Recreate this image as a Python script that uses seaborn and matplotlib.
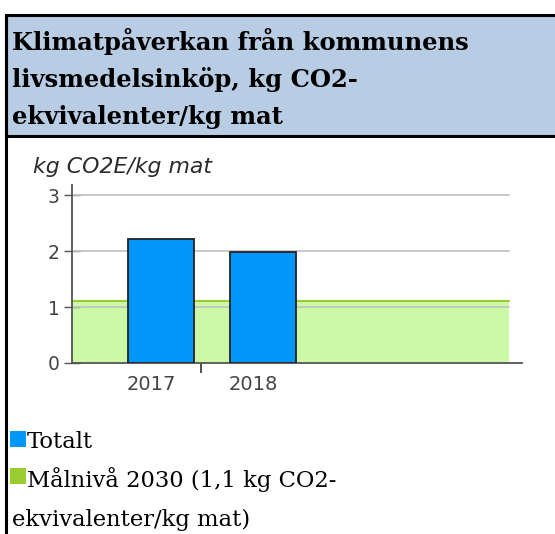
import matplotlib
matplotlib.use('Agg')
import matplotlib.pyplot as plt
import seaborn as sns
from matplotlib.patches import Rectangle
from matplotlib.lines import Line2D

# data
years = ['2017', '2018']
totalt = [2.21, 1.99]
target_2030 = 1.1
y_ticks = [0, 1, 2, 3]

title_lines = ['Klimatpåverkan från kommunens', 'livsmedelsinköp, kg CO2-', 'ekvivalenter/kg mat']
legend_lines = ['Totalt', 'Målnivå 2030 (1,1 kg CO2-', 'ekvivalenter/kg mat)']

blue = '#0096fa'
green_fill = '#ccf9a8'
green_line = '#9acd32'

sns.set_style('white')

W, H = 555, 534
fig = plt.figure(figsize=(W / 100, H / 100), dpi=100)


def fx(px):
    return px / W


def fy(py):
    return 1 - py / H


# header box + left border
fig.patches.append(Rectangle((fx(6), fy(136)), fx(560) - fx(6), fy(15) - fy(136),
                             transform=fig.transFigure, facecolor='#b8cce4',
                             edgecolor='black', linewidth=2.2))
fig.lines.append(Line2D([fx(6), fx(6)], [fy(15), 0], transform=fig.transFigure,
                        color='black', linewidth=2.2))
for i, line in enumerate(title_lines):
    fig.text(fx(12), fy(50 + i * 37), line, fontfamily='DejaVu Serif',
             fontweight='bold', fontsize=17.5, color='black', va='baseline', ha='left')

# chart
ax = fig.add_axes([fx(72), fy(363), fx(522) - fx(72), fy(185) - fy(363)])
ax.set_facecolor('none')
grid_end = (509 - 72) / (522 - 72)
ax.axhspan(0, target_2030, xmax=grid_end, facecolor=green_fill, edgecolor='none', zorder=0)
for t in y_ticks[1:]:
    ax.axhline(t, xmax=grid_end, color='#c4c4c4', linewidth=1.3, zorder=1)
ax.axhline(target_2030, xmax=grid_end, color=green_line, linewidth=1.5, zorder=1)

sns.barplot(x=years, y=totalt, color=blue, width=0.65, edgecolor='#222222',
            linewidth=1.3, saturation=1, ax=ax, zorder=3)

ax.set_xlim(-0.873, 3.539)
ax.set_ylim(0, 3.18)
ax.set_yticks(y_ticks)
ax.tick_params(axis='y', direction='inout', length=12, width=1, color='#555555',
               labelcolor='#444444', labelsize=13.5, pad=3, left=True)
ax.set_xticks([-0.1, 0.9], years)
ax.tick_params(axis='x', length=0, labelcolor='#444444', labelsize=14, pad=9)
ax.set_xticks([0.39], minor=True)
ax.tick_params(axis='x', which='minor', direction='out', length=7, width=1.2,
               color='#333333', bottom=True)
ax.set_xlabel('')
ax.set_ylabel('')
for s in ['top', 'right']:
    ax.spines[s].set_visible(False)
for s in ['left', 'bottom']:
    ax.spines[s].set_color('#555555')
    ax.spines[s].set_linewidth(1.3)

fig.text(fx(33), fy(173), 'kg CO2E/kg mat', fontstyle='italic', fontsize=15.8,
         color='#2a2a2a', va='baseline', ha='left')

# legend
sq = 16
fig.patches.append(Rectangle((fx(10), fy(447)), fx(sq), sq / H, transform=fig.transFigure,
                             facecolor=blue, edgecolor='none'))
fig.patches.append(Rectangle((fx(10), fy(484)), fx(sq), sq / H, transform=fig.transFigure,
                             facecolor=green_line, edgecolor='none'))
legend_x = [27, 27, 12]
for i, line in enumerate(legend_lines):
    fig.text(fx(legend_x[i]), fy(448 + i * 39), line, fontfamily='DejaVu Serif',
             fontsize=16.3, color='black', va='baseline', ha='left')

fig.savefig('out.png', dpi=100)
